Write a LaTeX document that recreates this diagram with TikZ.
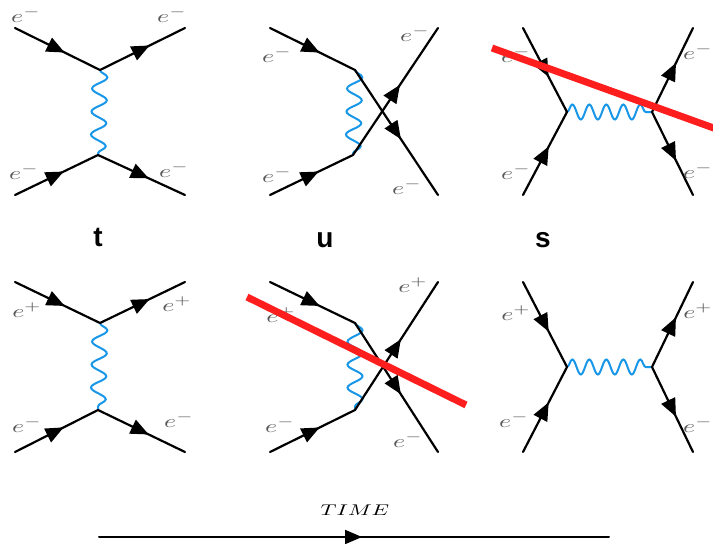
\documentclass[tikz,border=0pt]{standalone}
\usepackage{fontspec}
\newfontfamily\chanfont{Liberation Sans}
\usetikzlibrary{arrows.meta,decorations.markings,decorations.pathmorphing}
\definecolor{photonblue}{RGB}{24,150,232}
\definecolor{cutred}{RGB}{255,30,30}

\begin{document}
\begin{tikzpicture}[x=1pt,y=-1pt,line cap=round,
  fermion/.style={line width=2.2pt,postaction={decorate},
    decoration={markings,mark=at position 0.5 with {\arrow[xshift=8pt]{Triangle[length=18pt,width=15pt]}}}},
  photonv/.style={photonblue,line width=2pt,decorate,
    decoration={snake,amplitude=7.5pt,segment length=23pt}},
  photonh/.style={photonblue,line width=2pt,decorate,
    decoration={snake,amplitude=7.5pt,segment length=17pt}},
  cutline/.style={cutred,line width=7pt,line cap=butt},
  elabel/.style={text=black!65,xscale=2.6,yscale=1.8,inner sep=0pt},
  chanlabel/.style={font=\chanfont\bfseries\fontsize{28}{30}\selectfont,inner sep=0pt},
  timeline/.style={line width=2pt,postaction={decorate},
    decoration={markings,mark=at position 0.5 with {\arrow[xshift=8pt]{Triangle[length=17pt,width=14pt]}}}}]
\useasboundingbox (0,0) rectangle (713,544);
% t channel, e- e-
\coordinate (ta1) at (15,28);
\coordinate (ta2) at (15,195);
\coordinate (tv1) at (100,70);
\coordinate (tv2) at (98,155);
\coordinate (tb1) at (185,28);
\coordinate (tb2) at (185,195);
\draw[photonv] (tv1) -- (tv2);
\draw[fermion] (ta1) -- (tv1);
\draw[fermion] (tv1) -- (tb1);
\draw[fermion] (ta2) -- (tv2);
\draw[fermion] (tv2) -- (tb2);
\node[elabel] (tla1) at (26,15) {$e^-$};
\node[elabel] (tlb1) at (172,15) {$e^-$};
\node[elabel] (tla2) at (24,172) {$e^-$};
\node[elabel] (tlb2) at (174,170) {$e^-$};
% u channel, e- e-
\coordinate (ua1) at (270,28);
\coordinate (ua2) at (270,195);
\coordinate (uv1) at (355,70);
\coordinate (uv2) at (353,155);
\coordinate (ub1) at (438,28);
\coordinate (ub2) at (438,195);
\draw[photonv] (uv1) -- (uv2);
\draw[fermion] (ua1) -- (uv1);
\draw[fermion] (uv1) -- (ub2);
\draw[fermion] (ua2) -- (uv2);
\draw[fermion] (uv2) -- (ub1);
\node[elabel] (ula1) at (277,55) {$e^-$};
\node[elabel] (ulb1) at (415,34) {$e^-$};
\node[elabel] (ula2) at (277,175) {$e^-$};
\node[elabel] (ulb2) at (407,187) {$e^-$};
% s channel, e- e-
\coordinate (sa1) at (523,28);
\coordinate (sa2) at (523,195);
\coordinate (sv1) at (567,112);
\coordinate (sv2) at (652,112);
\coordinate (sb1) at (693,28);
\coordinate (sb2) at (693,195);
\draw[photonh] (sv1) -- (sv2);
\draw[fermion] (sa1) -- (sv1);
\draw[fermion] (sa2) -- (sv1);
\draw[fermion] (sv2) -- (sb1);
\draw[fermion] (sv2) -- (sb2);
\node[elabel] (sla1) at (516,55) {$e^-$};
\node[elabel] (slb1) at (698,52) {$e^-$};
\node[elabel] (sla2) at (516,172) {$e^-$};
\node[elabel] (slb2) at (698,171) {$e^-$};
\coordinate (scut1) at (492,48);
\coordinate (scut2) at (722,131);
\draw[cutline] (scut1) -- (scut2);
% channel names
\node[chanlabel] (tname) at (98,237) {t};
\node[chanlabel] (uname) at (325,240) {u};
\node[chanlabel] (sname) at (543,240) {s};
% t channel, e+ e-
\coordinate (pta1) at (15,282);
\coordinate (pta2) at (15,452);
\coordinate (ptv1) at (100,323);
\coordinate (ptv2) at (98,410);
\coordinate (ptb1) at (185,282);
\coordinate (ptb2) at (185,452);
\draw[photonv] (ptv1) -- (ptv2);
\draw[fermion] (pta1) -- (ptv1);
\draw[fermion] (ptv1) -- (ptb1);
\draw[fermion] (pta2) -- (ptv2);
\draw[fermion] (ptv2) -- (ptb2);
\node[elabel] (ptla1) at (27,310) {$e^+$};
\node[elabel] (ptlb1) at (177,304) {$e^+$};
\node[elabel] (ptla2) at (27,425) {$e^-$};
\node[elabel] (ptlb2) at (179,420) {$e^-$};
% u channel, e+ e-
\coordinate (pua1) at (270,282);
\coordinate (pua2) at (270,452);
\coordinate (puv1) at (355,323);
\coordinate (puv2) at (355,410);
\coordinate (pub1) at (438,282);
\coordinate (pub2) at (438,452);
\draw[photonv] (puv1) -- (puv2);
\draw[fermion] (pua1) -- (puv1);
\draw[fermion] (puv1) -- (pub2);
\draw[fermion] (pua2) -- (puv2);
\draw[fermion] (puv2) -- (pub1);
\node[elabel] (pula1) at (281,315) {$e^+$};
\node[elabel] (pulb1) at (413,285) {$e^+$};
\node[elabel] (pula2) at (280,425) {$e^-$};
\node[elabel] (pulb2) at (408,440) {$e^-$};
\coordinate (pucut1) at (247,297);
\coordinate (pucut2) at (466,405);
\draw[cutline] (pucut1) -- (pucut2);
% s channel, e+ e-
\coordinate (psa1) at (523,282);
\coordinate (psa2) at (523,452);
\coordinate (psv1) at (567,367);
\coordinate (psv2) at (652,367);
\coordinate (psb1) at (693,282);
\coordinate (psb2) at (693,452);
\draw[photonh] (psv1) -- (psv2);
\draw[fermion] (psa1) -- (psv1);
\draw[fermion] (psa2) -- (psv1);
\draw[fermion] (psv2) -- (psb1);
\draw[fermion] (psv2) -- (psb2);
\node[elabel] (psla1) at (516,313) {$e^+$};
\node[elabel] (pslb1) at (698,311) {$e^+$};
\node[elabel] (psla2) at (514,420) {$e^-$};
\node[elabel] (pslb2) at (698,425) {$e^-$};
% time axis
\coordinate (time0) at (99,537);
\coordinate (time1) at (609,537);
\draw[timeline] (time0) -- (time1);
\node[xscale=2.2,yscale=1.55] (timetext) at (355,510) {$TIME$};
\end{tikzpicture}
\end{document}
